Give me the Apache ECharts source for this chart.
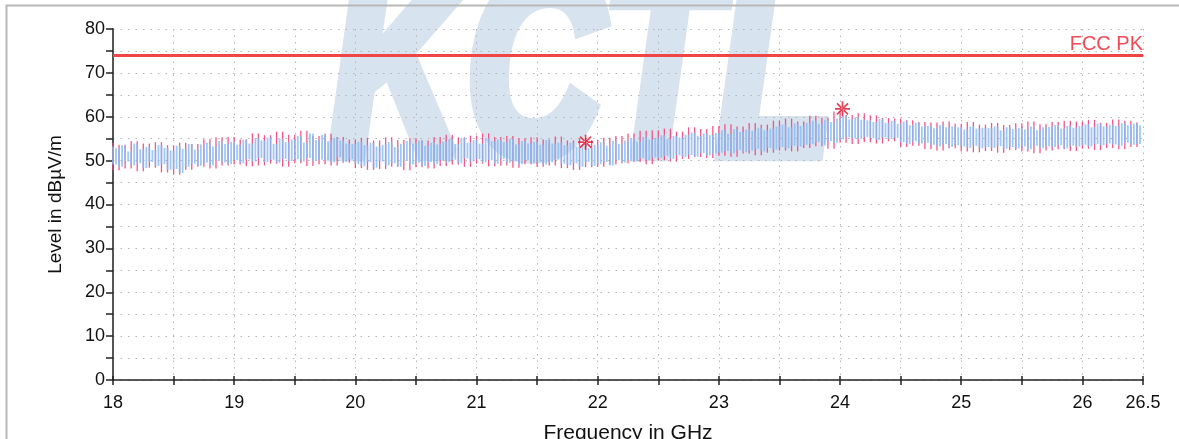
<!DOCTYPE html>
<html>
<head>
<meta charset="utf-8">
<script src="https://cdn.jsdelivr.net/npm/echarts@6/dist/echarts.min.js"></script>
<style>
html,body{margin:0;padding:0;background:#fff;}
#c{width:1179px;height:439px;}
</style>
</head>
<body>
<div id="c"></div>
<script>
// ---- Data ----
const freqMin = 18, freqMax = 26.5;           // GHz
const levelMin = 0, levelMax = 80;            // dBuV/m
const xTickLabels = ['18','19','20','21','22','23','24','25','26','26.5'];
const limitLevel = 74;
const limitName = 'FCC PK';

// Average-like trace (blue), sampled every 0.025 GHz from 18 GHz
const blueStart = 18, blueStep = 0.025;
const blueLevels = [
53.2,49.1,52.8,48.6,53.5,49.8,52.1,48.9,53.9,49.4,
52.6,48.3,53.1,49.7,52.4,48.8,53.6,49.2,52.9,47.9,
52.3,48.1,53.4,47.2,52.7,48.6,53.8,49.3,52.5,48.8,
53.7,49.5,54.1,48.9,53.2,50.1,54.4,49.6,53.8,49.2,
54.3,50.1,53.6,49.4,54.8,50.3,53.9,49.8,55.1,50.6,
54.6,49.7,55.3,50.2,53.8,49.5,54.9,50.4,54.2,49.9,
54.8,50.3,55.6,49.8,54.1,50.6,56.2,49.9,54.7,50.2,
55.9,50.1,54.4,49.6,55.2,50.8,54.6,49.7,53.9,50.3,
53.8,49.2,54.3,48.7,53.5,49.6,54.1,48.4,53.2,49.8,
53.6,48.9,54.2,49.4,53.1,48.6,53.8,49.9,54.5,49.1,
53.9,49.5,54.6,48.8,53.4,49.7,54.1,49.2,53.7,50.1,
54.3,49.6,54.9,50.2,53.8,49.4,55.2,50.5,54.1,49.8,
54.7,50.3,53.9,49.6,55.1,50.1,54.4,49.3,54.8,50.4,
54.2,49.5,54.9,49.9,53.7,49.2,54.5,50.1,53.9,49.4,
54.3,49.8,53.6,49.1,54.7,49.6,53.9,50.2,54.1,49.3,
53.5,48.9,54.1,49.4,53.2,48.6,53.8,49.7,52.9,48.8,
53.6,49.2,54.2,49.7,53.4,48.9,54.5,50.1,53.8,49.6,
54.6,50.2,55.1,49.8,54.3,50.6,55.4,50.1,54.8,50.7,
55.2,50.6,55.8,51.1,54.9,50.4,55.6,51.2,55.3,50.8,
55.9,51.3,56.4,50.9,55.6,51.7,56.2,51.2,55.8,51.6,
56.3,51.8,56.9,52.2,56.1,51.6,57.2,52.4,56.5,51.9,
57.1,52.3,56.8,52.7,57.5,52.1,56.9,52.9,57.3,52.5,
57.8,53.1,58.2,52.8,57.6,53.4,58.5,53.2,57.9,53.6,
58.6,53.8,59.1,54.2,58.4,53.5,59.3,54.4,58.8,54.1,
59.6,54.8,60.2,55.3,59.4,55.1,59.8,54.9,59.3,55.4,
59.2,55.1,58.8,54.7,59.5,55.3,58.6,54.9,59.1,55.2,
58.4,54.2,58.9,53.8,58.1,54.4,58.6,53.9,57.8,54.1,
57.9,53.6,57.4,53.2,58.1,53.8,57.6,53.1,57.8,53.5,
57.6,53.2,57.1,52.9,57.8,53.4,57.3,52.8,57.5,53.1,
57.4,52.9,57.8,53.3,56.9,52.7,57.6,53.1,57.2,52.8,
57.5,53.2,57.1,52.6,57.8,53.4,56.9,52.9,57.6,53.3,
57.7,53.1,58.1,53.5,57.3,52.8,57.9,53.4,57.5,53.2,
57.9,53.6,58.3,53.2,57.6,53.8,58.4,53.5,57.8,53.9,
58.2,53.7,57.9,53.4,58.5,54.1,58.1,53.6,58.4,53.8,
58.0
];

// Peak trace (pink), sampled every 0.05 GHz from 18 GHz
const pinkStart = 18, pinkStep = 0.05;
const pinkLevels = [
54.1,47.8,53.6,48.2,54.4,
47.6,53.9,48.4,54.2,47.3,
53.5,46.8,54.1,47.9,53.8,
48.6,54.9,48.2,55.3,48.9,
55.4,49.1,54.8,48.7,56.2,
48.9,55.8,49.3,56.6,48.6,
55.9,49.4,56.8,48.8,55.6,
49.2,56.1,48.9,55.4,49.5,
54.8,48.3,55.2,47.9,54.6,
48.1,55.3,48.6,54.7,47.8,
55.1,48.5,54.6,48.2,55.4,
48.8,55.9,49.1,55.3,48.6,
55.7,49.3,56.2,48.7,55.4,
48.9,55.6,48.4,55.1,49.2,
55.3,48.6,54.8,48.9,55.5,
48.3,54.6,47.9,55.1,48.5,
54.7,48.6,55.2,49.1,55.6,
49.4,56.2,49.7,56.8,49.2,
56.9,50.1,57.3,49.8,56.6,
50.4,57.6,50.8,57.2,50.6,
57.9,51.1,58.3,50.9,57.8,
51.6,58.6,51.2,58.2,51.8,
59.1,52.3,59.6,52.1,58.9,
52.9,60.2,53.3,59.8,52.7,
61.2,54.1,60.4,53.8,60.8,
54.2,60.3,53.9,59.7,54.4,
59.6,53.1,59.2,53.4,58.8,
52.6,58.7,52.3,58.9,52.8,
58.4,52.1,58.8,51.9,58.2,
52.2,58.6,51.8,58.1,52.4,
58.5,52.1,58.9,51.7,58.3,
52.3,58.8,52.6,59.1,52.2,
58.9,52.7,59.3,52.4,58.6,
52.9,59.4,52.6,59.1,53.1,
58.7
];

// Peak markers
const markerFreqs = [21.9, 24.02];
const markerLevels = [54.2, 61.8];

// ---- Build ----
// Each sample is drawn as a vertical stroke spanning from its level to the next sample's level
function strokes(levels, start, step) {
  const out = [];
  for (let i = 0; i < levels.length - 1; i++) {
    out.push([+(start + i * step).toFixed(4), levels[i], levels[i + 1]]);
  }
  return out;
}
const blueStrokes = strokes(blueLevels, blueStart, blueStep);
const pinkStrokes = strokes(pinkLevels, pinkStart, pinkStep);
const markerPairs = markerFreqs.map((f, i) => [f, markerLevels[i]]);

function strokeRenderer(color, width) {
  return function (params, api) {
    const x = api.value(0);
    const p1 = api.coord([x, api.value(1)]);
    const p2 = api.coord([x, api.value(2)]);
    return {
      type: 'line',
      shape: {x1: p1[0], y1: p1[1], x2: p2[0], y2: p2[1]},
      style: {stroke: color, lineWidth: width}
    };
  };
}

const FONT = '"Liberation Sans", Arial, sans-serif';
const asterisk = 'path://M-1,-9 L1,-9 L1,9 L-1,9 Z M-9,-1 L9,-1 L9,1 L-9,1 Z M-7.3,-5.9 L5.9,7.3 L7.3,5.9 L-5.9,-7.3 Z M5.9,-7.3 L7.3,-5.9 L-5.9,7.3 L-7.3,5.9 Z';

const xLabelFormatter = v => { const s = String(+v.toFixed(2)); return xTickLabels.indexOf(s) >= 0 ? s : ''; };

const chart = echarts.init(document.getElementById('c'), null, {renderer: 'canvas'});
chart.setOption({
  animation: false,
  backgroundColor: '#ffffff',
  graphic: [
    {
      type: 'text', z: -10, silent: true,
      x: 330, y: 212, scaleX: 0.72, scaleY: 1,
      style: {
        text: 'KCTL', fill: '#d7e3ef', stroke: '#d7e3ef', lineWidth: 16,
        font: 'italic bold 262px "Liberation Sans", Arial, sans-serif',
        textAlign: 'left', textVerticalAlign: 'bottom'
      }
    },
    {
      type: 'rect', z: 100, silent: true,
      shape: {x: 6.5, y: 5.5, width: 1200, height: 460},
      style: {fill: 'none', stroke: '#b8b8b8', lineWidth: 2}
    }
  ],
  grid: {left: 113, right: 36, top: 29, bottom: 59, containLabel: false, outerBoundsMode: 'none'},
  xAxis: [
    {
      type: 'value', min: freqMin, max: freqMax, interval: 0.5,
      name: 'Frequency in GHz', nameLocation: 'middle', nameGap: 43,
      nameTextStyle: {fontFamily: FONT, fontSize: 21, color: '#111'},
      axisLine: {show: true, onZero: false, lineStyle: {color: '#222', width: 1.5}},
      axisTick: {show: true, length: 5, lineStyle: {color: '#222', width: 1.5}},
      axisLabel: {
        fontFamily: FONT, fontSize: 18, color: '#111', margin: 14,
        showMinLabel: true, showMaxLabel: true,
        formatter: xLabelFormatter
      },
      splitLine: {show: true, lineStyle: {color: '#b5b5b5', width: 1, type: [1.5, 5]}}
    },
    {
      type: 'value', min: freqMin, max: freqMax, interval: 0.5, position: 'bottom', offset: 0,
      axisLine: {show: false, onZero: false},
      axisTick: {show: true, inside: true, length: 4, lineStyle: {color: '#222', width: 1.5}},
      axisLabel: {show: false},
      splitLine: {show: false}
    }
  ],
  yAxis: {
    type: 'value', min: levelMin, max: levelMax, interval: 5,
    name: 'Level in dBµV/m', nameLocation: 'middle', nameGap: 48,
    nameTextStyle: {fontFamily: FONT, fontSize: 19, color: '#111'},
    axisLine: {show: true, lineStyle: {color: '#555', width: 2}},
    axisTick: {show: true, length: 7, lineStyle: {color: '#222', width: 1.5}},
    axisLabel: {
      fontFamily: FONT, fontSize: 18, color: '#111', margin: 8,
      formatter: v => (v % 10 === 0 ? String(v) : '')
    },
    splitLine: {show: true, lineStyle: {color: '#b5b5b5', width: 1, type: [1.5, 6]}}
  },
  series: [
    {
      name: 'Peak', type: 'custom', data: pinkStrokes, z: 3,
      renderItem: strokeRenderer('rgba(240,70,125,0.9)', 1.3),
      encode: {x: 0, y: [1, 2]}
    },
    {
      name: 'Average', type: 'custom', data: blueStrokes, z: 4,
      renderItem: strokeRenderer('rgba(130,188,246,0.8)', 1.8),
      encode: {x: 0, y: [1, 2]}
    },
    {
      name: 'Limit', type: 'line', data: [], z: 5,
      markLine: {
        silent: true, symbol: 'none', animation: false,
        lineStyle: {color: '#f04545', width: 3, type: 'solid'},
        label: {
          show: true, position: 'insideEndTop', formatter: limitName,
          fontFamily: FONT, fontSize: 20, color: '#f04a55', distance: [0, 1]
        },
        data: [{yAxis: limitLevel}]
      }
    },
    {
      name: 'Markers', type: 'scatter', data: markerPairs, z: 6,
      symbol: asterisk, symbolSize: 15,
      itemStyle: {color: '#e0102a'}
    }
  ]
});
</script>
</body>
</html>
